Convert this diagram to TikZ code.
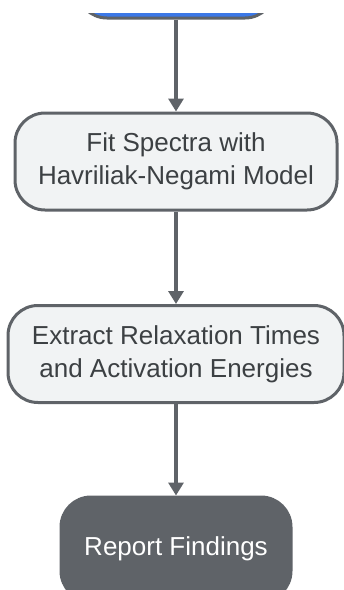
\documentclass[tikz,border=0pt]{standalone}
\usepackage{fontspec}
\setmainfont{Liberation Sans}
\usetikzlibrary{positioning}
\usetikzlibrary{arrows.meta}
\definecolor{flowgray}{HTML}{5F6368}
\definecolor{flowlight}{HTML}{F1F3F4}
\definecolor{flowblue}{HTML}{3B78E7}
\definecolor{flowtext}{HTML}{3C4043}

\begin{document}
\begin{tikzpicture}[x = 1pt, y = 1pt, flowgray,
    stepbox/.style = {rounded corners = 30pt, draw = flowgray, line width = 3pt,
        fill = flowlight, text = flowtext, align = center,
        font = \fontsize{26}{33}\selectfont, minimum height = 97pt},
    flow/.style = {line width = 4.5pt, -{Triangle[length = 13pt, width = 15pt]}}]
    \useasboundingbox[clip] (0,0) rectangle (344,-590);

    %\draw[help lines, opacity = 0.1] (0,-590) grid[step = 20] (344,0);

    \begin{scope}
        \clip (0,-13) rectangle (344,-590);
        \node (start) at (176,30.5) [stepbox, fill = flowblue, minimum width = 198pt] {};
    \end{scope}

    \begin{scope}[on grid]
        \node (fit) [stepbox, below = 192 of start, minimum width = 322pt] {Fit Spectra with\\Havriliak-Negami Model};
        \node (extract) [stepbox, below = 192.5 of fit, minimum width = 336pt] {Extract Relaxation Times\\and Activation Energies};
        \node (report) [stepbox, below = 195 of extract, fill = flowgray, text = white, minimum width = 230pt, minimum height = 104pt] {Report Findings};

        \draw[flow] (start) -- (fit);
        \draw[flow] (fit) -- (extract);
        \draw[flow] (extract) -- (report);
    \end{scope}

\end{tikzpicture}
\end{document}
